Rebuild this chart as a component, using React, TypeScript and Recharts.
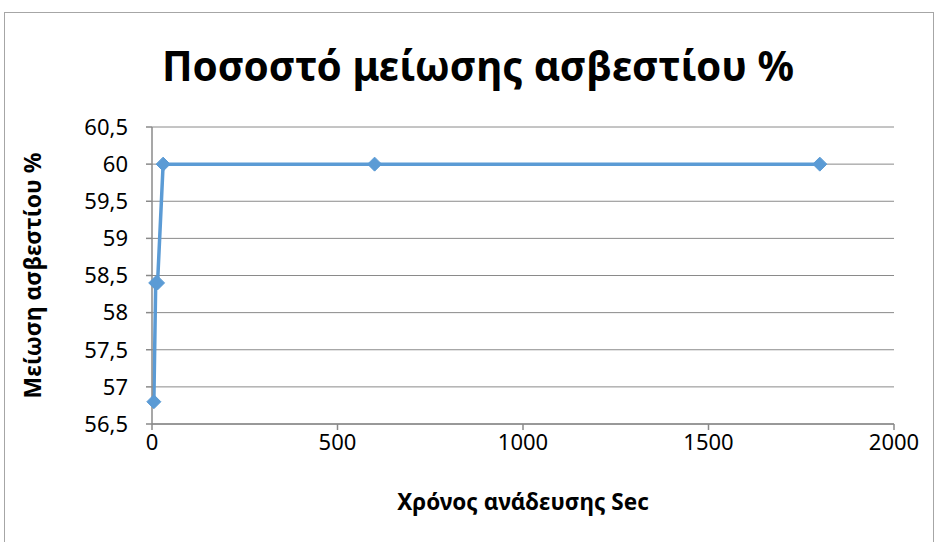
import React from "react";
import { LineChart, Line, XAxis, YAxis, CartesianGrid, Label } from "recharts";

const times = [5, 10, 15, 30, 600, 1800];
const reduction = [56.8, 58.4, 58.4, 60, 60, 60];
const xTicks = [0, 500, 1000, 1500, 2000];
const yTicks = [56.5, 57, 57.5, 58, 58.5, 59, 59.5, 60, 60.5];

const title = "Ποσοστό μείωσης ασβεστίου %";
const xTitle = "Χρόνος ανάδευσης Sec";
const yTitle = "Μείωση ασβεστίου %";

const data = times.map((t, i) => ({ x: t, y: reduction[i] }));

const FONT = "'Noto Sans', 'Open Sans', sans-serif";
const BLUE = "#5B9BD5";
const GRID = "#8a8a8a";

const Diamond = (props: any) => {
  const { cx, cy } = props;
  if (cx == null || cy == null) return null;
  const r = 7;
  return (
    <path
      d={`M${cx},${cy - r} L${cx + r},${cy} L${cx},${cy + r} L${cx - r},${cy} Z`}
      fill={BLUE}
      stroke={BLUE}
      strokeWidth={1}
    />
  );
};

export default function App() {
  return (
    <div style={{ position: "fixed", left: 0, top: 0, width: 938, height: 542, background: "#fff" }}>
      <div
        style={{
          position: "absolute",
          left: 4,
          top: 12,
          width: 930,
          height: 534,
          border: "1px solid #a6a6a6",
          boxSizing: "border-box",
        }}
      />
      <div
        style={{
          position: "absolute",
          left: 0,
          width: 956,
          top: 38,
          textAlign: "center",
          fontFamily: FONT,
          fontWeight: 700,
          fontSize: 40.5,
          color: "#000",
          lineHeight: "56px",
        }}
      >
        {title}
      </div>
      <div style={{ position: "absolute", left: 0, top: 0 }}>
        <LineChart
          width={938}
          height={542}
          data={data}
          margin={{ top: 127, right: 44, bottom: 28, left: 0 }}
        >
          <CartesianGrid horizontal vertical={false} stroke={GRID} strokeWidth={1} />
          <XAxis
            type="number"
            dataKey="x"
            domain={[0, 2000]}
            ticks={xTicks}
            interval={0}
            height={90}
            stroke={GRID}
            strokeWidth={1.5}
            tickSize={6}
            tickMargin={4}
            tick={{ fill: "#000", fontSize: 22, fontFamily: FONT }}
          >
            <Label
              value={xTitle}
              position="insideBottom"
              offset={4}
              style={{ fill: "#000", fontSize: 22.5, fontWeight: 700, fontFamily: FONT }}
            />
          </XAxis>
          <YAxis
            type="number"
            dataKey="y"
            domain={[56.5, 60.5]}
            ticks={yTicks}
            interval={0}
            width={152}
            stroke={GRID}
            strokeWidth={1.5}
            tickSize={6}
            tickMargin={18}
            tickFormatter={(v: number) => String(v).replace(".", ",")}
            tick={{ fill: "#000", fontSize: 22, fontFamily: FONT }}
          >
            <Label
              value={yTitle}
              angle={-90}
              position="insideLeft"
              offset={33}
              style={{ textAnchor: "middle", fill: "#000", fontSize: 23, fontWeight: 700, fontFamily: FONT }}
            />
          </YAxis>
          <Line
            type="linear"
            dataKey="y"
            stroke={BLUE}
            strokeWidth={3.5}
            dot={<Diamond />}
            activeDot={false}
            isAnimationActive={false}
          />
        </LineChart>
      </div>
    </div>
  );
}
